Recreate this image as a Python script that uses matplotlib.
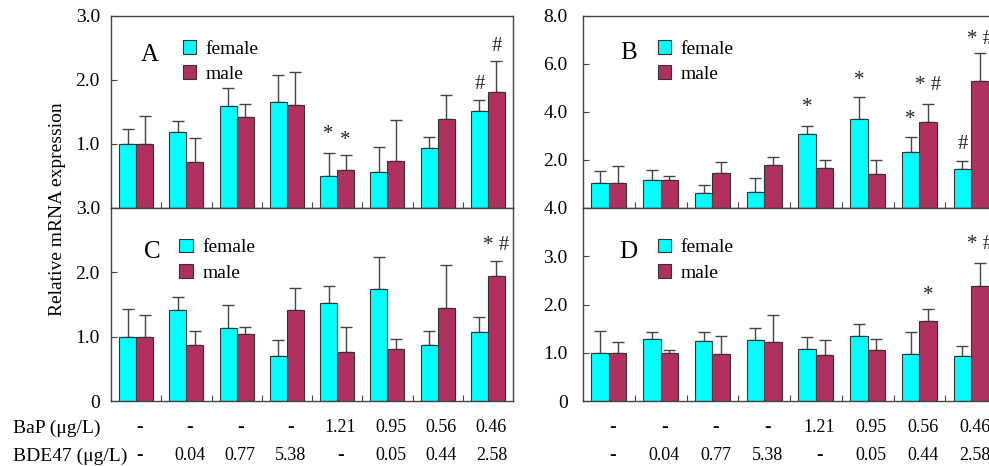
import matplotlib
matplotlib.use("Agg")
import matplotlib.pyplot as plt
import matplotlib.transforms as mtransforms
import numpy as np

plt.rcParams['font.family'] = ['Liberation Serif', 'DejaVu Serif']

# ---------------- data ----------------
groups = np.arange(8)
bap_labels = ['-', '-', '-', '-', '1.21', '0.95', '0.56', '0.46']
bde_labels = ['-', '0.04', '0.77', '5.38', '-', '0.05', '0.44', '2.58']

A_female = [1.00, 1.19, 1.59, 1.66, 0.50, 0.57, 0.94, 1.52]
A_female_err = [0.24, 0.17, 0.29, 0.42, 0.36, 0.39, 0.17, 0.17]
A_male = [1.00, 0.72, 1.42, 1.61, 0.59, 0.73, 1.39, 1.81]
A_male_err = [0.43, 0.38, 0.21, 0.51, 0.24, 0.65, 0.38, 0.48]

B_female = [1.03, 1.18, 0.63, 0.68, 3.08, 3.71, 2.33, 1.63]
B_female_err = [0.50, 0.39, 0.33, 0.57, 0.35, 0.92, 0.63, 0.31]
B_male = [1.03, 1.18, 1.46, 1.81, 1.67, 1.40, 3.57, 5.31]
B_male_err = [0.73, 0.14, 0.47, 0.30, 0.35, 0.60, 0.78, 1.13]

C_female = [1.00, 1.42, 1.14, 0.70, 1.53, 1.74, 0.87, 1.07]
C_female_err = [0.43, 0.19, 0.36, 0.25, 0.26, 0.50, 0.22, 0.23]
C_male = [1.00, 0.87, 1.04, 1.41, 0.76, 0.81, 1.45, 1.94]
C_male_err = [0.33, 0.22, 0.11, 0.34, 0.39, 0.16, 0.67, 0.24]

D_female = [1.00, 1.28, 1.24, 1.27, 1.08, 1.34, 0.98, 0.94]
D_female_err = [0.45, 0.14, 0.18, 0.24, 0.25, 0.26, 0.46, 0.21]
D_male = [1.00, 1.00, 0.98, 1.22, 0.95, 1.06, 1.65, 2.38]
D_male_err = [0.22, 0.06, 0.37, 0.57, 0.31, 0.22, 0.25, 0.47]

# annotations: (group, sex, text, y)
A_marks = [(4, 'f', '*', 1.15), (4, 'm', '*', 1.05), (7, 'f', '#', 1.93), (7, 'm', '#', 2.53)]
B_marks = [(4, 'f', '*', 4.2), (5, 'f', '*', 5.33), (6, 'f', '*', 3.7),
           (6, 'm', '* #', 5.12), (7, 'f', '#', 2.66), (7, 'm', '* #', 7.02)]
C_marks = [(7, 'm', '* #', 2.42)]
D_marks = [(6, 'm', '*', 2.19), (7, 'm', '* #', 3.25)]

A_ticks = [1, 2, 3]; A_ticklabels = ['1.0', '2.0', '3.0']
B_ticks = [2, 4, 6, 8]; B_ticklabels = ['2.0', '4.0', '6.0', '8.0']
C_ticks = [0, 1, 2, 3]; C_ticklabels = ['0', '1.0', '2.0', '3.0']
D_ticks = [0, 1, 2, 3, 4]; D_ticklabels = ['0', '1.0', '2.0', '3.0', '4.0']

# ---------------- style ----------------
FEMALE = '#00FFFF'
MALE = '#B03060'
EDGE = '#333333'
W, H = 989, 466
fig = plt.figure(figsize=(W / 100, H / 100), dpi=100)

def px_axes(x0, y0, x1, y1):
    return fig.add_axes([x0 / W, 1 - y1 / H, (x1 - x0) / W, (y1 - y0) / H])

axA = px_axes(111, 16, 513, 208)
axC = px_axes(111, 208, 513, 401)
axB = px_axes(583, 16, 997, 208)
axD = px_axes(583, 208, 997, 401)

bw = 0.34

def panel(ax, letter, fem, fem_err, mal, mal_err, ymax, ticks, ticklabels, marks,
          pad, letter_xy, leg_xy):
    bf = ax.bar(groups - bw / 2, fem, bw, color=FEMALE, edgecolor=EDGE, linewidth=0.8,
                label='female', zorder=2)
    bm = ax.bar(groups + bw / 2, mal, bw, color=MALE, edgecolor=EDGE, linewidth=0.8,
                label='male', zorder=2)
    ax.errorbar(groups - bw / 2, fem, yerr=[np.zeros(8), fem_err], fmt='none',
                ecolor='#444444', elinewidth=1.0, capsize=4.5, capthick=1.0, zorder=1)
    ax.errorbar(groups + bw / 2, mal, yerr=[np.zeros(8), mal_err], fmt='none',
                ecolor='#444444', elinewidth=1.0, capsize=4.5, capthick=1.0, zorder=1)
    ax.set_xlim(-0.5, 7.5)
    ax.set_ylim(0, ymax)
    ax.set_xticks(groups[:-1] + 0.5)
    ax.set_xticklabels([])
    ax.set_yticks(ticks)
    ax.set_yticklabels(ticklabels, fontsize=14)
    ax.tick_params(axis='x', direction='in', length=4, width=0.8, color='#444444')
    ax.tick_params(axis='y', direction='in', length=4, width=0.8, color='#444444', pad=pad)
    for s in ax.spines.values():
        s.set_color('#444444')
        s.set_linewidth(1.0)
    ax.text(letter_xy[0], letter_xy[1], letter, transform=ax.transAxes, fontsize=18,
            ha='center', va='center')
    ax.legend(handles=[bf, bm], loc='upper left', bbox_to_anchor=leg_xy,
              frameon=False, fontsize=14, handlelength=0.7, handleheight=0.7,
              handletextpad=0.5, labelspacing=0.4, borderaxespad=0, borderpad=0)
    for g, sex, txt, y in marks:
        x = g - bw / 2 if sex == 'f' else g + bw / 2
        ax.text(x, y, txt, fontsize=15, ha='center', va='center', color='#222222',
                clip_on=False)

panel(axA, 'A', A_female, A_female_err, A_male, A_male_err, 3.0,
      A_ticks, A_ticklabels, A_marks, 8, (0.097, 0.797), (0.178, 0.875))
panel(axC, 'C', C_female, C_female_err, C_male, C_male_err, 3.0,
      C_ticks, C_ticklabels, C_marks, 8, (0.102, 0.772), (0.170, 0.840))
panel(axB, 'B', B_female, B_female_err, B_male, B_male_err, 8.0,
      B_ticks, B_ticklabels, B_marks, 11, (0.109, 0.807), (0.180, 0.875))
panel(axD, 'D', D_female, D_female_err, D_male, D_male_err, 4.0,
      D_ticks, D_ticklabels, D_marks, 11, (0.109, 0.772), (0.180, 0.840))

fig.text(58 / W, 1 - 209 / H, 'Relative mRNA expression', rotation=90,
         fontsize=14, ha='center', va='center')

# treatment rows
y_bap = 1 - 428 / H
y_bde = 1 - 456 / H
fig.text(13 / W, y_bap, 'BaP (\u03bcg/L)', fontsize=14, ha='left', va='center')
fig.text(13 / W, y_bde, 'BDE47 (\u03bcg/L)', fontsize=14, ha='left', va='center')
for ax in (axC, axD):
    tr = mtransforms.blended_transform_factory(ax.transData, fig.transFigure)
    for g in groups:
        for lab, yy in ((bap_labels[g], y_bap), (bde_labels[g], y_bde)):
            if lab == '-':
                ax.text(g + 0.07, yy, '-', transform=tr, fontsize=14, fontweight='bold',
                        ha='center', va='center', clip_on=False)
            else:
                ax.text(g + 0.07, yy, lab, transform=tr, fontsize=13,
                        ha='center', va='center', clip_on=False)

fig.savefig('out.png', dpi=100)
